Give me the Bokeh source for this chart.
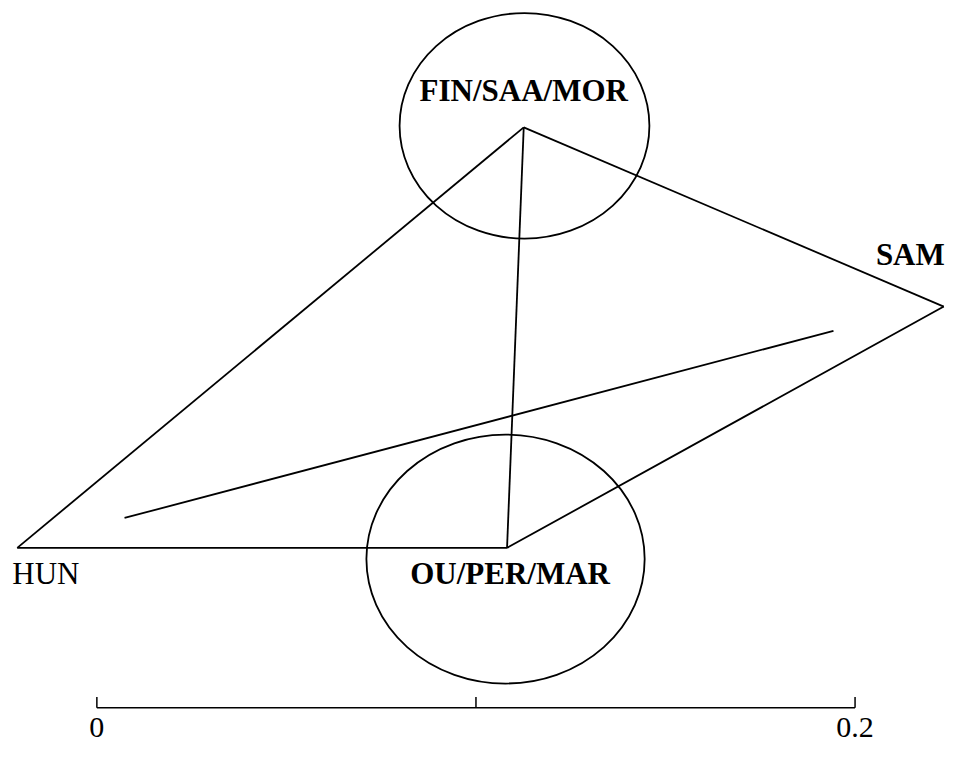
from bokeh.plotting import figure
from bokeh.models import Range1d
from bokeh.embed import file_html
from bokeh.resources import INLINE
from bokeh.core.properties import value

# Network nodes (distance units; scale bar 0..0.2)
node_names = ["HUN", "OU/PER/MAR", "FIN/SAA/MOR", "SAM"]
node_x = [-0.0210, 0.1082, 0.1126, 0.2234]
node_y = [0.0428, 0.0428, 0.1554, 0.1074]

# Edges between nodes (index pairs)
edges = [(0, 1), (0, 2), (1, 2), (1, 3), (2, 3)]

# Separate split line
split_x = [0.0073, 0.1943]
split_y = [0.0508, 0.1009]

# Cluster ellipses
cluster_x = [0.1128, 0.1078]
cluster_y = [0.1558, 0.0398]
cluster_w = [0.0659, 0.0734]
cluster_h = [0.0604, 0.0667]

# Scale bar
scale_ticks = [0.0, 0.1, 0.2]
scale_label_pos = [0.0, 0.2]
scale_labels = ["0", "0.2"]

p = figure(width=946, height=744, output_backend="svg", toolbar_location=None,
           x_range=Range1d(-0.02542, 0.22412), y_range=Range1d(-0.00986, 0.18936),
           min_border=0)
p.axis.visible = False
p.grid.visible = False
p.outline_line_color = None
p.background_fill_color = "white"
p.border_fill_color = "white"

LW = 1.8
# edges
xs = [[node_x[a], node_x[b]] for a, b in edges]
ys = [[node_y[a], node_y[b]] for a, b in edges]
p.multi_line(xs, ys, line_color="black", line_width=LW)
p.line(split_x, split_y, line_color="black", line_width=LW)

# ellipses
p.ellipse(x=cluster_x, y=cluster_y, width=cluster_w, height=cluster_h,
          fill_color=None, line_color="black", line_width=LW)

# labels
offs = {"HUN": (-5, 26, "left", "normal"),
        "OU/PER/MAR": (3, 26, "center", "bold"),
        "FIN/SAA/MOR": (0, -37, "center", "bold"),
        "SAM": (1, -52, "right", "bold")}
for name, x, y in zip(node_names, node_x, node_y):
    dx, dy, al, st = offs[name]
    p.text(x=[x], y=[y], text=[name], x_offset=dx, y_offset=dy,
           text_align=al, text_baseline="alphabetic",
           text_font=value("Liberation Serif"), text_font_size="31px",
           text_font_style=st, text_color="black")

# scale bar
tick_h = 0.00285
p.line([scale_ticks[0], scale_ticks[-1]], [0, 0], line_color="black", line_width=1.5)
p.segment(x0=scale_ticks, y0=[0] * len(scale_ticks), x1=scale_ticks,
          y1=[tick_h] * len(scale_ticks), line_color="black", line_width=1.5)
p.text(x=scale_label_pos, y=[0] * len(scale_label_pos), text=scale_labels,
       y_offset=20, text_align="center", text_baseline="alphabetic",
       text_font=value("Liberation Serif"), text_font_size="30px", text_color="black")

open("out.html", "w").write(file_html(p, INLINE))
